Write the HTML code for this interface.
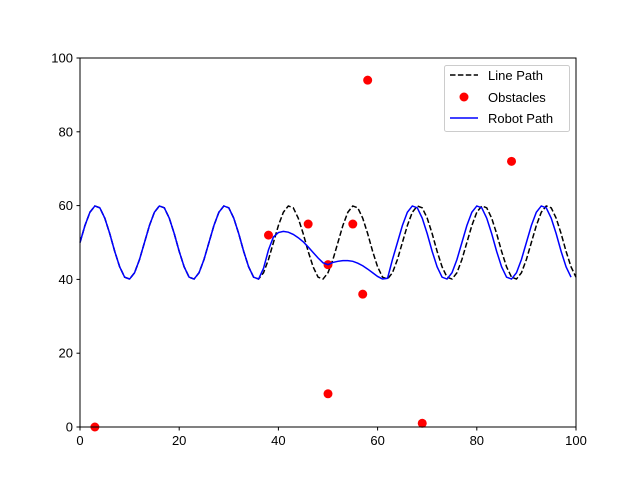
<!DOCTYPE html>
<html><head><meta charset="utf-8"><style>
body{margin:0;background:#fff;}
svg text{font-family:"Liberation Sans",sans-serif;font-size:13px;fill:#000;}
</style></head><body>
<svg id="chart" width="640" height="480">
<rect x="0" y="0" width="640" height="480" fill="#fff"/>
<g id="plot"></g>
<g id="axes"></g>
<g id="legend">
<rect x="444.5" y="65.5" width="125" height="66" fill="#fff" fill-opacity="0.8" stroke="#ccc" rx="2"/>
<g>
<line x1="450" y1="75" x2="478" y2="75" stroke="#000" stroke-width="1.5" stroke-dasharray="5.5,2.4"/>
<text x="488" y="80">Line Path</text></g>
<g>
<circle cx="464" cy="97" r="4.5" fill="#f00"/>
<text x="488" y="102">Obstacles</text></g>
<g>
<line x1="450" y1="118" x2="478" y2="118" stroke="#00f" stroke-width="1.5"/>
<text x="488" y="123">Robot Path</text></g>
</g>
</svg>
<script>
const lineY=[50,54.6,58.2,59.9,59.4,56.6,52.4,47.6,43.4,40.6,40.1,41.8,45.4,
50,54.6,58.2,59.9,59.4,56.6,52.4,47.6,43.4,40.6,40.1,41.8,45.4,
50,54.6,58.2,59.9,59.4,56.6,52.4,47.6,43.4,40.6,40.1,41.8,45.4,
50,54.6,58.2,59.9,59.4,56.6,52.4,47.6,43.4,40.6,40.1,41.8,45.4,
50,54.6,58.2,59.9,59.4,56.6,52.4,47.6,43.4,40.6,40.1,41.8,45.4,
50,54.6,58.2,59.9,59.4,56.6,52.4,47.6,43.4,40.6,40.1,41.8,45.4,
50,54.6,58.2,59.9,59.4,56.6,52.4,47.6,43.4,40.6,40.1,41.8,45.4,
50,54.6,58.2,59.9,59.4,56.6,52.4,47.6,43.4,40.6];
const robotY=[50,54.6,58.2,59.9,59.4,56.6,52.4,47.6,43.4,40.6,40.1,41.8,45.4,
50,54.6,58.2,59.9,59.4,56.6,52.4,47.6,43.4,40.6,40.1,41.8,45.4,
50,54.6,58.2,59.9,59.4,56.6,52.4,47.6,43.4,40.6,
40.1,43,48,51.5,52.7,53,52.8,52.2,51.3,50.2,48.8,47.3,45.8,44.5,44,44.6,44.9,45.1,45.1,44.9,44.4,43.7,42.8,41.8,40.8,40.1,40.3,
45.4,50,54.6,58.2,59.9,59.4,56.6,52.4,47.6,43.4,40.6,40.1,41.8,
45.4,50,54.6,58.2,59.9,59.4,56.6,52.4,47.6,43.4,40.6,40.1,41.8,
45.4,50,54.6,58.2,59.9,59.4,56.6,52.4,47.6,43.4,40.6];
const obsX=[3,38,46,50,55,57,58,87,50,69];
const obsY=[0,52,55,44,55,36,94,72,9,1];
const xTicks=[0,20,40,60,80,100];
const yTicks=[0,20,40,60,80,100];

const NS="http://www.w3.org/2000/svg";
const L=80,R=576,T=58,B=427;
const sx=v=>L+(v/100)*(R-L);
const sy=v=>B-(v/100)*(B-T);
const plot=document.getElementById('plot'),axes=document.getElementById('axes');
function mk(t,a,p){const e=document.createElementNS(NS,t);for(const k in a)e.setAttribute(k,a[k]);p.appendChild(e);return e;}

const d1=lineY.map((v,i)=>(i?'L':'M')+sx(i).toFixed(2)+','+sy(v).toFixed(2)).join('');
const lp=mk('path',{d:d1,fill:'none',stroke:'#000','stroke-width':1.5,'stroke-dasharray':'5.5,2.4'},plot);


obsX.forEach((x,i)=>{
const c=mk('circle',{cx:sx(x),cy:sy(obsY[i]),r:4.5,fill:'#f00'},plot);


});
const d2=robotY.map((v,i)=>(i?'L':'M')+sx(i).toFixed(2)+','+sy(v).toFixed(2)).join('');
const rp=mk('path',{d:d2,fill:'none',stroke:'#00f','stroke-width':1.5},plot);



const fr=mk('rect',{x:L,y:T,width:R-L,height:B-T,fill:'none',stroke:'#000','stroke-width':1},axes);


xTicks.forEach(t=>{
const x=sx(t);
mk('line',{x1:x,y1:B,x2:x,y2:B+3.5,stroke:'#000'},axes);
const tx=mk('text',{x:x,y:B+18,'text-anchor':'middle'},axes);tx.textContent=t;


});
yTicks.forEach(t=>{
const y=sy(t);
mk('line',{x1:L-3.5,y1:y,x2:L,y2:y,stroke:'#000'},axes);
const tx=mk('text',{x:L-7,y:y+4.5,'text-anchor':'end'},axes);tx.textContent=t;


});
</script>
</body></html>
